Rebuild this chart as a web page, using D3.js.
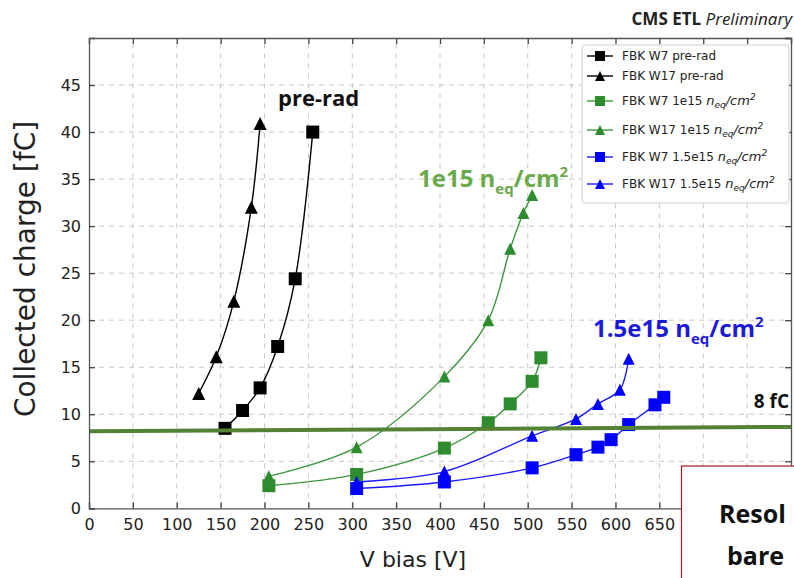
<!DOCTYPE html>
<html>
<head>
<meta charset="utf-8">
<script src="https://cdn.jsdelivr.net/npm/d3@7"></script>
<style>
  html, body { margin: 0; padding: 0; background: #fff; }
  svg { display: block; }
</style>
</head>
<body>
<svg id="chart" width="794" height="578"></svg>
<script>
// Collected charge vs bias voltage, FBK sensors before and after irradiation
const w7PreV = [155, 175, 195, 215, 235, 255];
const w7PreQ = [8.5, 10.4, 12.8, 17.2, 24.4, 40.0];
const w17PreV = [125, 145, 165, 185, 195];
const w17PreQ = [12.2, 16.1, 22.0, 32.0, 40.9];
const w7F1V = [205, 305, 405, 455, 480, 505, 515];
const w7F1Q = [2.4, 3.6, 6.4, 9.1, 11.1, 13.5, 16.0];
const w17F1V = [205, 305, 405, 455, 480, 495, 505];
const w17F1Q = [3.4, 6.5, 14.0, 20.0, 27.6, 31.4, 33.3];
const w7F15V = [305, 405, 505, 555, 580, 595, 615, 645, 655];
const w7F15Q = [2.1, 2.8, 4.3, 5.7, 6.5, 7.3, 8.9, 11.0, 11.8];
const w17F15V = [305, 405, 505, 555, 580, 605, 615];
const w17F15Q = [2.8, 3.9, 7.7, 9.5, 11.1, 12.6, 15.9];

const xTicks = d3.range(0, 801, 50);
const xTickLabels = d3.range(0, 651, 50);
const yTicks = d3.range(0, 46, 5);
const thresholdQ = [8.2, 8.65];   // 8 fC reference line, ends at V = 0 and V = 800

const seriesNames = ["FBK W7 pre-rad", "FBK W17 pre-rad", "FBK W7 1e15", "FBK W17 1e15", "FBK W7 1.5e15", "FBK W17 1.5e15"];

const svg = d3.select("#chart");
const x = d3.scaleLinear().domain([0, 800]).range([89, 791]);
const y = d3.scaleLinear().domain([0, 50]).range([508.3, 38]);

const black = "#000000", green = "#2e8b2e", blue = "#0000ff";
const lineGreen = "#3d963d", lineBlue = "#1a1aff";

const series = [
  { name: seriesNames[0], V: w7PreV, Q: w7PreQ, marker: "square", fill: black, stroke: black, sz: 13 },
  { name: seriesNames[1], V: w17PreV, Q: w17PreQ, marker: "triangle", fill: black, stroke: black, sz: 13 },
  { name: seriesNames[2], V: w7F1V, Q: w7F1Q, marker: "square", fill: green, stroke: lineGreen, sz: 13, math: true },
  { name: seriesNames[3], V: w17F1V, Q: w17F1Q, marker: "triangle", fill: green, stroke: lineGreen, sz: 12, math: true },
  { name: seriesNames[4], V: w7F15V, Q: w7F15Q, marker: "square", fill: blue, stroke: lineBlue, sz: 13, math: true },
  { name: seriesNames[5], V: w17F15V, Q: w17F15Q, marker: "triangle", fill: blue, stroke: lineBlue, sz: 12, math: true }
];

// matplotlib-like markers: square and isoceles triangle, both centred on their box
const markerPath = (type, s) => type === "square"
  ? `M${-s/2},${-s/2}h${s}v${s}h${-s}Z`
  : `M0,${-s/2}L${s/2},${s/2}L${-s/2},${s/2}Z`;

// grid
const grid = svg.append("g");
grid.selectAll("line.gx").data(xTicks.filter(v => v > 0 && v < 800)).join("line")
  .attr("x1", d => x(d)).attr("x2", d => x(d)).attr("y1", y(0)).attr("y2", y(50))
  .attr("stroke", "#c8c8c8").attr("stroke-width", 1).attr("stroke-dasharray", "5,5");
grid.selectAll("line.gy").data(yTicks.filter(v => v > 0)).join("line")
  .attr("x1", x(0)).attr("x2", x(800)).attr("y1", d => y(d)).attr("y2", d => y(d))
  .attr("stroke", "#c8c8c8").attr("stroke-width", 1).attr("stroke-dasharray", "5,5");

// data series
const line = d3.line().curve(d3.curveCatmullRom.alpha(0.5));
const plot = svg.append("g");
series.forEach(s => {
  const pts = s.V.map((v, i) => [x(v), y(s.Q[i])]);
  plot.append("path").attr("d", line(pts)).attr("fill", "none")
    .attr("stroke", s.stroke).attr("stroke-width", 1.4);
});
series.forEach(s => {
  plot.selectAll(null).data(s.V.map((v, i) => [v, s.Q[i]])).join("path")
    .attr("transform", d => `translate(${x(d[0])},${y(d[1])})`)
    .attr("d", markerPath(s.marker, s.sz))
    .attr("fill", s.fill);
});

// 8 fC threshold
svg.append("line")
  .attr("x1", x(0)).attr("x2", x(800))
  .attr("y1", y(thresholdQ[0])).attr("y2", y(thresholdQ[1]))
  .attr("stroke", "#548235").attr("stroke-width", 4);

// axes with inward ticks on all four sides
const tickFont = "DejaVu Sans";
const axB = svg.append("g").attr("transform", `translate(0,${y(0)})`)
  .call(d3.axisBottom(x).tickValues(xTicks).tickSize(-6).tickPadding(10)
    .tickFormat(d => xTickLabels.includes(d) ? d3.format("d")(d) : ""));
const axT = svg.append("g").attr("transform", `translate(0,${y(50)})`)
  .call(d3.axisTop(x).tickValues(xTicks).tickSize(-6).tickFormat(""));
const axL = svg.append("g").attr("transform", `translate(${x(0)},0)`)
  .call(d3.axisLeft(y).tickValues(yTicks).tickSize(-6).tickPadding(8).tickFormat(d3.format("d")));
const axR = svg.append("g").attr("transform", `translate(${x(800)},0)`)
  .call(d3.axisRight(y).tickValues(yTicks.concat([50])).tickSize(-6).tickFormat(""));
[axB, axT, axL, axR].forEach(a => {
  a.select(".domain").attr("stroke", "#555").attr("stroke-width", 1.3);
  a.selectAll(".tick line").attr("stroke", "#444").attr("stroke-width", 1.3);
  a.selectAll(".tick text").attr("font-family", tickFont).attr("font-size", 16).attr("fill", "#222");
});

// axis titles
svg.append("text").attr("x", 413).attr("y", 567).attr("text-anchor", "middle")
  .attr("font-family", tickFont).attr("font-size", 22).attr("fill", "#222").text("V bias [V]");
svg.append("text").attr("transform", "translate(35,269) rotate(-90)").attr("text-anchor", "middle")
  .attr("font-family", tickFont).attr("font-size", 28).attr("fill", "#222").text("Collected charge [fC]");

// header
const head = svg.append("text").attr("x", 792).attr("y", 25).attr("text-anchor", "end")
  .attr("font-family", "Open Sans").attr("font-size", 17).attr("fill", "#222");
head.append("tspan").attr("font-weight", "bold").text("CMS ETL ");
head.append("tspan").attr("font-style", "italic").text("Preliminary");

// annotations
const annFont = "Open Sans";
svg.append("text").attr("x", 278).attr("y", 106).attr("font-family", annFont)
  .attr("font-weight", "bold").attr("font-size", 22).attr("fill", "#111").text("pre-rad");
function fluenceLabel(xp, yp, value, color) {
  const t = svg.append("text").attr("x", xp).attr("y", yp).attr("font-family", annFont)
    .attr("font-weight", "bold").attr("font-size", 24).attr("fill", color);
  t.append("tspan").text(value + " n");
  t.append("tspan").attr("font-size", 15).attr("dy", 7).text("eq");
  t.append("tspan").attr("dy", -7).text("/cm");
  t.append("tspan").attr("font-size", 15).attr("dy", -10).text("2");
}
fluenceLabel(418, 187, "1e15", "#6aaa4b");
fluenceLabel(593, 337, "1.5e15", "#1a1ad8");
svg.append("text").attr("x", 789).attr("y", 408).attr("text-anchor", "end").attr("font-family", annFont)
  .attr("font-weight", "bold").attr("font-size", 19).attr("fill", "#111").text("8 fC");

// legend
const leg = svg.append("g");
leg.append("rect").attr("x", 582).attr("y", 45).attr("width", 207).attr("height", 158)
  .attr("rx", 3).attr("fill", "#fff").attr("stroke", "#d0d0d0");
const rowY = [56, 76, 101, 130, 157, 184];
series.forEach((s, i) => {
  const g = leg.append("g").attr("transform", `translate(0,${rowY[i]})`);
  g.append("line").attr("x1", 587).attr("x2", 613).attr("stroke", s.stroke).attr("stroke-width", 1.4);
  g.append("path").attr("transform", "translate(600,0)").attr("d", markerPath(s.marker, 10)).attr("fill", s.fill);
  const t = g.append("text").attr("x", 622).attr("y", 4).attr("font-family", "DejaVu Sans")
    .attr("font-size", 12).attr("fill", "#222");
  if (s.math) {
    t.append("tspan").text(s.name + " ");
    t.append("tspan").attr("font-style", "italic").attr("font-size", 13).text("n");
    t.append("tspan").attr("font-style", "italic").attr("font-size", 9).attr("dy", 3).text("eq");
    t.append("tspan").attr("font-style", "italic").attr("font-size", 13).attr("dy", -3).text("/cm");
    t.append("tspan").attr("font-style", "italic").attr("font-size", 9).attr("dy", -5).text("2");
  } else {
    t.text(s.name);
  }
});

// overlapping slide box at lower right
svg.append("rect").attr("x", 681.5).attr("y", 466).attr("width", 140).attr("height", 140)
  .attr("fill", "#fff").attr("stroke", "#9b1c1c").attr("stroke-width", 1.2);
svg.append("text").attr("x", 719).attr("y", 523).attr("font-family", annFont)
  .attr("font-weight", "bold").attr("font-size", 25).attr("fill", "#111").text("Resol");
svg.append("text").attr("x", 727).attr("y", 565).attr("font-family", annFont)
  .attr("font-weight", "bold").attr("font-size", 25).attr("fill", "#111").text("bare");
</script>
</body>
</html>
